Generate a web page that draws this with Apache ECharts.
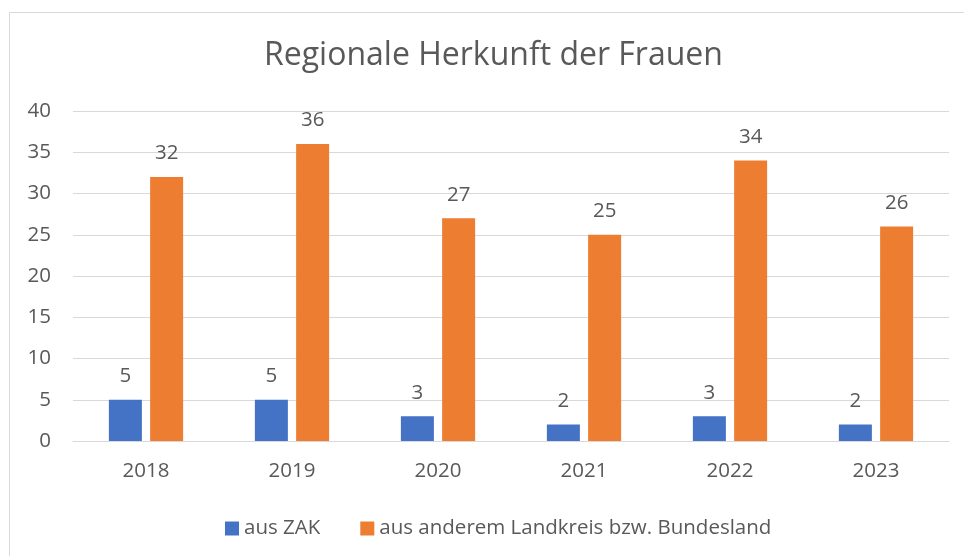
<!DOCTYPE html>
<html>
<head>
<meta charset="utf-8">
<script src="https://cdn.jsdelivr.net/npm/echarts@6/dist/echarts.min.js"></script>
<style>
  html, body { margin: 0; padding: 0; background: #fff; }
  #main { width: 964px; height: 556px; }
</style>
</head>
<body>
<div id="main"></div>
<script>
var years = ['2018', '2019', '2020', '2021', '2022', '2023'];
var ausZak = [5, 5, 3, 2, 3, 2];
var ausAnderem = [32, 36, 27, 25, 34, 26];
var yTicks = [0, 5, 10, 15, 20, 25, 30, 35, 40];

var font = '"Open Sans", sans-serif';
var textColor = '#595959';
var fs = 20.5;

var myChart = echarts.init(document.getElementById('main'));

var labelStyle = {
    show: true,
    position: 'top',
    distance: 13,
    color: textColor,
    fontSize: fs,
    fontFamily: font
};

var option = {
    animation: false,
    backgroundColor: '#fff',
    title: {
        text: 'Regionale Herkunft der Frauen',
        left: 259,
        top: 35,
        textStyle: {
            color: textColor,
            fontSize: 32,
            fontWeight: 'normal',
            fontFamily: font
        }
    },
    // Rahmen um das Diagramm
    graphic: [{
        type: 'rect',
        shape: { x: 9.5, y: 12.5, width: 970, height: 560 },
        style: { fill: 'none', stroke: '#d9d9d9', lineWidth: 1 },
        silent: true
    }],
    legend: {
        left: 220,
        top: 513,
        itemWidth: 14,
        itemHeight: 14,
        itemGap: 40,
        icon: 'rect',
        textStyle: { color: textColor, fontSize: fs, fontFamily: font },
        data: ['aus ZAK', 'aus anderem Landkreis bzw. Bundesland']
    },
    grid: {
        left: 73,
        right: 15,
        top: 111,
        bottom: 115
    },
    xAxis: {
        type: 'category',
        data: years,
        axisLine: { lineStyle: { color: '#d9d9d9', width: 1 } },
        axisTick: { show: false },
        axisLabel: { color: textColor, fontSize: fs, fontFamily: font, margin: 20 }
    },
    yAxis: {
        type: 'value',
        min: yTicks[0],
        max: yTicks[yTicks.length - 1],
        interval: 5,
        axisLine: { show: false },
        axisTick: { show: false },
        axisLabel: { color: textColor, fontSize: fs, fontFamily: font, margin: 22 },
        splitLine: { lineStyle: { color: '#d9d9d9', width: 1 } }
    },
    series: [
        {
            name: 'aus ZAK',
            type: 'bar',
            data: ausZak,
            barWidth: 33,
            barGap: '25%',
            itemStyle: { color: '#4472c4' },
            label: labelStyle
        },
        {
            name: 'aus anderem Landkreis bzw. Bundesland',
            type: 'bar',
            data: ausAnderem,
            barWidth: 33,
            barGap: '25%',
            itemStyle: { color: '#ed7d31' },
            label: labelStyle
        }
    ]
};

myChart.setOption(option);
</script>
</body>
</html>
